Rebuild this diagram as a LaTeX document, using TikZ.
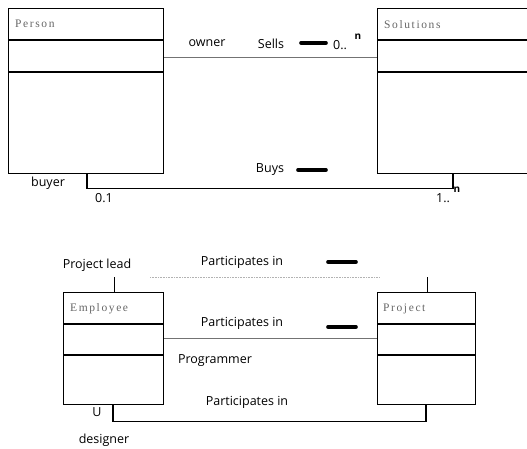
\documentclass[tikz,border=0pt]{standalone}
\usepackage{fontspec}
\setmainfont{Open Sans}
\newfontfamily\clsfont[LetterSpace=14]{Liberation Serif}
\usetikzlibrary{calc}
\begin{document}
\begin{tikzpicture}[x=1pt,y=-1pt,
  cls/.style={draw=black,line width=1.1pt,rectangle,inner sep=0pt,anchor=north west},
  clsname/.style={font=\clsfont\fontsize{11.5}{13}\selectfont,text=black!60,anchor=west,inner sep=0pt},
  lbl/.style={font=\fontsize{12.5}{14}\selectfont,inner sep=0pt},
  conn/.style={line width=1.2pt},
  assoc/.style={draw=black!55,line width=0.7pt},
  bar/.style={line width=3.6pt,line cap=round},
  sup/.style={font=\bfseries\fontsize{10}{12}\selectfont,inner sep=0pt}]
\useasboundingbox (0,0) rectangle (527,448);
% --- top classes
\node[cls,minimum width=155pt,minimum height=165pt] (person) at (8,8) {};
\node[cls,minimum width=160pt,minimum height=165pt] (solutions) at (377,8) {};
\draw[line width=1.1pt] (8,40) -- (163,40) (8,72) -- (163,72);
\draw[line width=1.1pt] (377,40) -- (537,40) (377,72) -- (537,72);
\node[clsname] (pname) at (15,24) {Person};
\node[clsname] (sname) at (384,25) {Solutions};
% owner / sells
\draw[assoc] ([yshift=-49pt]person.north east) -- ([yshift=-49pt]solutions.north west);
\node[lbl] (owner) at (207,43) {owner};
\node[lbl] (sells) at (271,44) {Sells};
\draw[bar] (301,43) -- (326,43);
\node[lbl] (zn) at (340,45) {0..};
\node[sup] (n1) at (358,37) {n};
% buys
\node[lbl] (buys) at (270,170) {Buys};
\draw[bar] (298,170) -- (326,170);
\draw[conn] ([xshift=79pt]person.south west) -- ++(0,14) -| ([xshift=76pt]solutions.south west);
\node[lbl] (buyer) at (48,183) {buyer};
\node[lbl] (zo) at (104,198) {0.1};
\node[lbl] (on) at (443,198) {1..};
\node[sup] (n2) at (457,190) {n};
% --- bottom classes
\node[cls,minimum width=100pt,minimum height=112pt] (employee) at (63,292) {};
\node[cls,minimum width=98pt,minimum height=112pt] (project) at (377,292) {};
\draw[line width=2pt] (63,324) -- (163,324) (377,324) -- (475,324);
\draw[line width=1.1pt] (63,355) -- (163,355) (377,355) -- (475,355);
\node[clsname] (ename) at (70,309) {Employee};
\node[clsname] (prname) at (383,309) {Project};
% project lead
\node[lbl] (plead) at (97,265) {Project lead};
\coordinate (lt) at (114,277);
\coordinate (rt) at (427,277);
\draw[line width=0.8pt] ([xshift=51pt]employee.north west) -- (lt);
\draw[line width=0.8pt] ([xshift=50pt]project.north west) -- (rt);
\draw[black!30,line width=0.6pt,densely dotted] (150,277) -- (380,277);
\node[lbl] (pi1) at (242,262) {Participates in};
\draw[bar] (328,262) -- (356,262);
% middle
\node[lbl] (pi2) at (242,323) {Participates in};
\draw[bar] (328,327) -- (356,327);
\draw[assoc] ([yshift=-46pt]employee.north east) -- ([yshift=-46pt]project.north west);
\node[lbl] (prog) at (215,361) {Programmer};
% bottom
\node[lbl] (pi3) at (247,402) {Participates in};
\draw[conn] ([xshift=50pt]employee.south west) -- ++(0,16) -| ([xshift=49pt]project.south west);
\node[lbl] (u) at (97,412) {U};
\node[lbl] (des) at (104,440) {designer};
\end{tikzpicture}
\end{document}
